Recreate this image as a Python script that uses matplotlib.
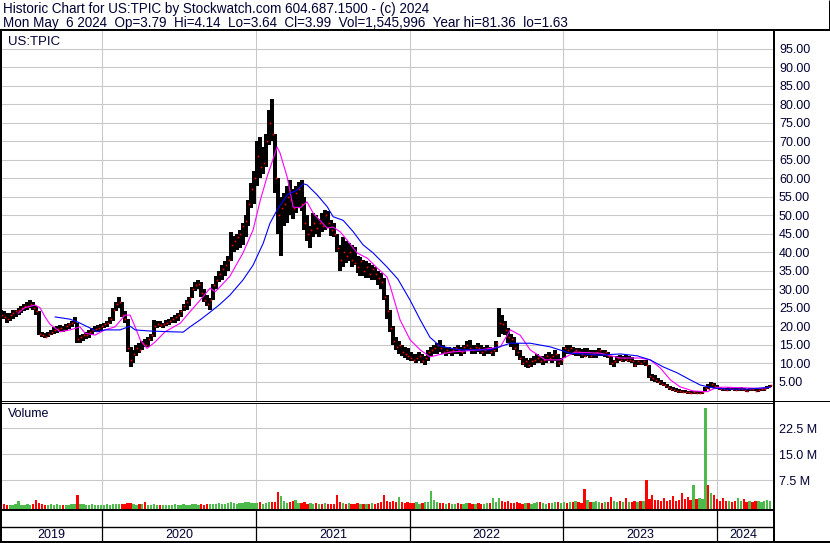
import matplotlib
matplotlib.use("Agg")
import matplotlib.pyplot as plt
from matplotlib.lines import Line2D
import numpy as np
import pandas as pd

# weekly bars (high / low / close)
high19 = [25.5, 24.5, 24.0, 23.5, 23.5, 24.5, 24.5, 25.0, 25.5, 26.0, 26.5, 27.0, 26.5, 25.5, 24.0,
          18.5, 18.2, 18.5, 19.0, 19.8, 20.0, 20.3, 20.0, 20.5, 21.0, 21.5, 22.5, 21.0, 17.5, 18.0,
          18.5, 19.0, 19.5, 20.0, 20.2]
low19 = [23.0, 22.5, 22.0, 21.0, 21.5, 22.0, 22.5, 23.0, 23.5, 24.0, 24.5, 25.0, 24.5, 23.0, 17.5,
         17.0, 16.8, 17.0, 17.5, 18.0, 18.2, 18.5, 18.3, 18.8, 19.2, 19.8, 20.5, 15.5, 15.5, 16.0,
         16.5, 16.8, 17.5, 18.4, 18.5]
close19 = [24.0, 23.0, 22.5, 22.0, 23.0, 23.5, 24.0, 24.5, 25.0, 25.5, 25.5, 26.0, 25.0, 24.0, 18.0,
           17.5, 17.2, 17.8, 18.5, 19.0, 19.2, 19.5, 19.0, 20.0, 20.5, 21.0, 21.5, 16.5, 17.0, 17.5,
           17.5, 18.5, 19.0, 19.2, 19.5]

high20 = [20.5, 21.0, 21.5, 22.5, 25.0, 26.5, 27.9, 26.5, 24.0, 22.0, 14.5, 13.5, 15.0, 15.5, 16.0,
          16.5, 17.0, 18.0, 21.7, 21.5, 21.5, 21.0, 21.7, 22.0, 22.5, 23.0, 23.5, 24.5, 26.0, 27.0,
          28.0, 30.5, 32.0, 32.5, 32.0, 30.0, 28.5, 27.5, 31.5, 33.5, 35.0, 36.5, 37.5, 39.0, 45.5,
          44.5, 45.0, 46.0, 48.0, 50.0, 54.0, 58.7]
low20 = [18.8, 19.5, 19.8, 20.5, 21.5, 24.0, 25.0, 22.5, 21.0, 13.0, 9.0, 10.0, 12.0, 12.8, 13.5,
         14.5, 14.5, 16.0, 17.0, 19.5, 19.8, 19.5, 20.0, 20.3, 21.0, 21.0, 21.5, 22.5, 24.0, 24.5,
         25.5, 27.5, 29.5, 30.0, 28.0, 26.5, 25.5, 24.4, 27.0, 30.0, 32.0, 32.5, 33.5, 35.0, 37.5,
         40.0, 40.5, 41.0, 42.0, 44.0, 47.0, 52.0]
close20 = [20.0, 20.5, 21.0, 22.0, 24.5, 26.0, 26.5, 23.0, 22.0, 14.0, 11.0, 12.5, 14.0, 13.5, 15.5,
           15.0, 16.5, 17.5, 20.0, 20.5, 20.2, 20.5, 21.0, 21.5, 22.0, 22.5, 23.0, 24.0, 25.5, 26.5,
           27.5, 30.0, 31.0, 31.5, 29.0, 27.0, 26.0, 27.0, 31.0, 32.5, 34.0, 35.5, 36.5, 38.0, 42.0,
           43.0, 44.0, 45.0, 47.0, 48.5, 53.0, 57.0]

high21 = [62.0, 70.0, 71.0, 68.5, 72.0, 78.5, 81.4, 72.0, 60.0, 55.0, 56.0, 58.0, 59.5, 57.0, 58.0,
          59.0, 59.6, 55.0, 50.0, 47.0, 50.5, 50.0, 49.0, 50.5, 51.4, 51.0, 48.7, 48.0, 45.0, 42.0,
          44.0, 43.0, 42.5, 42.0, 41.5, 39.0, 38.7, 38.0, 37.5, 37.0, 36.5, 36.0, 35.0, 34.5, 33.0,
          28.5, 24.5, 20.0, 17.0, 16.0, 15.0, 14.5]
low21 = [53.0, 58.0, 60.0, 61.0, 63.0, 69.0, 70.0, 56.0, 45.0, 39.0, 47.0, 48.0, 50.0, 49.0, 50.5,
         52.0, 51.0, 46.0, 43.0, 41.0, 44.0, 45.0, 44.0, 45.5, 46.0, 46.5, 44.5, 44.0, 40.0, 35.0,
         36.0, 37.0, 37.5, 36.0, 36.5, 34.5, 33.5, 33.5, 33.0, 33.0, 32.5, 32.5, 31.0, 30.0, 27.0,
         22.0, 18.5, 15.0, 13.5, 12.5, 12.0, 11.5]
close21 = [60.0, 66.0, 63.0, 64.0, 70.0, 75.0, 72.0, 60.0, 50.0, 52.0, 53.0, 55.0, 54.0, 52.0, 56.0,
           57.0, 53.0, 48.0, 45.0, 46.0, 48.0, 46.5, 48.0, 47.0, 50.0, 48.0, 46.0, 45.0, 41.0, 38.0,
           40.0, 39.0, 40.0, 38.0, 37.0, 36.0, 37.5, 35.0, 36.0, 34.0, 35.5, 34.0, 33.0, 32.0, 28.0,
           24.0, 19.5, 16.0, 14.5, 15.0, 13.0, 12.5]

high22 = [14.0, 13.0, 12.5, 12.5, 13.0, 12.5, 12.0, 13.5, 14.5, 15.0, 15.5, 16.3, 15.0, 14.5, 14.5,
          14.0, 14.5, 15.0, 14.5, 15.0, 16.0, 16.2, 15.0, 15.0, 15.5, 15.0, 14.5, 15.0, 14.5, 14.0,
          16.0, 25.0, 23.0, 21.5, 19.5, 18.0, 17.0, 15.5, 13.5, 12.0, 11.5, 11.0, 11.5, 12.0, 12.5,
          12.0, 12.0, 12.5, 13.0, 12.5, 13.5, 12.5, 11.5]
low22 = [11.0, 10.5, 10.5, 10.0, 10.5, 10.0, 9.5, 10.5, 12.0, 12.5, 12.5, 13.0, 12.5, 12.0, 12.5,
         12.0, 12.5, 12.5, 12.0, 12.5, 13.5, 13.5, 12.5, 12.5, 13.0, 12.5, 12.0, 12.5, 12.5, 12.0,
         13.0, 17.0, 18.0, 17.5, 15.5, 14.5, 13.5, 12.0, 11.0, 9.5, 9.0, 8.7, 9.0, 9.5, 10.0,
         10.0, 9.5, 10.0, 10.5, 10.0, 10.5, 9.0, 9.5]
close22 = [12.0, 11.5, 11.0, 11.5, 12.0, 10.5, 11.5, 13.0, 13.5, 14.0, 15.0, 14.0, 13.0, 13.5, 13.0,
           13.5, 14.0, 13.5, 13.0, 14.5, 15.0, 14.0, 13.5, 14.5, 14.0, 13.0, 13.5, 14.0, 13.0, 13.5,
           15.5, 21.0, 20.5, 19.0, 17.0, 16.5, 14.0, 13.0, 11.5, 10.0, 10.5, 9.5, 10.5, 11.0, 11.5,
           10.5, 11.0, 12.0, 11.5, 12.0, 12.5, 10.0, 11.0]

high23 = [14.5, 15.0, 14.9, 14.5, 14.0, 14.1, 13.8, 14.0, 14.1, 13.5, 13.5, 13.5, 14.0, 13.6, 13.5,
          13.0, 12.0, 11.0, 12.0, 12.2, 12.0, 12.2, 12.0, 11.8, 11.0, 11.0, 10.9, 11.0, 10.9, 9.5,
          7.0, 6.8, 6.0, 5.5, 5.0, 4.5, 3.8, 3.5, 3.2, 3.0, 2.8, 2.7, 2.6, 2.5, 2.5, 2.4, 2.4, 2.6,
          3.5, 4.5, 5.0, 4.6]
low23 = [11.5, 12.5, 12.5, 12.2, 12.0, 12.0, 11.5, 11.8, 12.0, 11.4, 11.5, 11.5, 12.0, 12.0, 11.7,
         11.5, 9.5, 9.0, 10.0, 10.5, 10.3, 10.5, 10.3, 10.0, 9.0, 9.5, 9.5, 9.5, 9.2, 6.0, 5.2, 4.8,
         4.6, 4.2, 3.8, 3.2, 2.8, 2.5, 2.2, 2.0, 2.0, 1.9, 1.8, 1.8, 1.7, 1.63, 1.7, 1.8, 2.2, 3.0,
         3.5, 3.3]
close23 = [14.0, 13.5, 14.0, 13.0, 13.5, 13.0, 12.5, 12.0, 13.0, 12.0, 12.5, 13.0, 13.5, 12.5, 13.0,
           12.0, 10.0, 10.5, 11.5, 11.0, 11.5, 11.0, 11.0, 10.5, 9.5, 10.5, 10.0, 10.5, 9.5, 6.5,
           6.0, 5.5, 5.0, 4.5, 4.2, 3.5, 3.0, 2.8, 2.5, 2.4, 2.3, 2.2, 2.1, 2.0, 2.2, 1.9, 2.0, 2.3,
           3.2, 3.0, 4.5, 3.8]

high24 = [4.0, 3.6, 3.4, 3.3, 3.5, 3.4, 3.2, 3.2, 3.5, 3.2, 3.0, 3.2, 3.4, 3.1, 3.0, 3.3, 3.4, 3.9, 4.14]
low24 = [3.0, 2.8, 2.6, 2.5, 2.6, 2.7, 2.5, 2.4, 2.6, 2.5, 2.3, 2.4, 2.6, 2.4, 2.3, 2.5, 2.6, 2.9, 3.64]
close24 = [3.4, 3.0, 2.9, 2.8, 3.2, 2.9, 2.7, 3.0, 3.1, 2.8, 2.6, 3.0, 2.9, 2.6, 2.7, 3.0, 3.1, 3.6, 3.99]

# volume, millions of shares
vol19 = [0.5, 0.4, 0.6, 0.3, 0.5, 0.4, 0.6, 1.5, 0.5, 0.4, 0.6, 0.5, 0.7, 1.8, 0.9, 0.6, 0.5, 0.4,
         0.8, 0.5, 0.6, 0.4, 0.5, 0.3, 0.5, 0.6, 0.7, 3.3, 0.8, 0.6, 0.5, 0.4, 0.6, 0.5, 0.4]
vol20 = [0.5, 0.4, 0.6, 0.5, 0.7, 0.6, 0.8, 0.6, 0.7, 1.0, 0.9, 0.6, 0.5, 0.7, 0.6, 1.2, 0.5, 0.4,
         0.6, 0.5, 0.4, 0.5, 0.3, 0.4, 0.5, 0.6, 0.4, 0.5, 0.6, 0.5, 0.4, 0.7, 0.6, 0.5, 0.6, 0.5,
         0.7, 0.8, 0.6, 0.7, 0.9, 0.8, 0.7, 1.0, 1.1, 0.9, 0.8, 1.0, 0.9, 1.1, 1.2, 1.0]
vol21 = [1.0, 0.9, 1.2, 0.8, 1.0, 1.1, 1.3, 1.2, 4.2, 2.9, 1.4, 1.0, 1.1, 1.5, 1.8, 1.0, 0.9, 1.1,
         0.8, 0.9, 0.7, 1.0, 0.8, 0.7, 0.9, 0.6, 0.8, 0.7, 3.2, 1.2, 0.9, 0.8, 1.0, 0.7, 0.8, 0.9,
         0.7, 0.6, 0.8, 0.7, 0.9, 0.8, 1.0, 1.1, 3.2, 1.5, 1.2, 1.4, 1.3, 2.8, 1.2, 1.0]
vol22 = [1.2, 1.0, 0.9, 1.1, 0.8, 1.0, 1.2, 1.1, 4.3, 1.8, 1.2, 1.0, 0.9, 0.8, 1.0, 0.7, 0.8, 0.9,
         0.7, 0.8, 1.0, 0.9, 0.8, 0.7, 0.9, 0.8, 0.7, 0.9, 1.0, 2.5, 1.2, 2.3, 1.6, 1.2, 1.5, 1.0,
         0.9, 1.1, 1.0, 0.8, 0.9, 1.0, 0.8, 0.9, 1.1, 1.2, 0.9, 0.8, 1.0, 0.9, 1.1, 1.2, 1.0]
vol23 = [1.2, 1.0, 1.3, 1.1, 1.4, 1.2, 1.0, 5.1, 1.8, 1.3, 1.2, 1.5, 1.1, 1.0, 1.3, 1.2, 2.8, 1.5,
         1.3, 1.4, 1.2, 2.3, 1.3, 1.1, 1.4, 1.2, 1.5, 1.6, 7.5, 2.0, 3.3, 1.8, 1.8, 1.6, 2.3, 1.5,
         1.7, 3.0, 1.6, 1.8, 3.8, 2.0, 2.6, 1.9, 6.1, 2.2, 2.5, 2.0, 28.4, 6.0, 3.8, 3.3]
vol24 = [2.0, 1.6, 2.5, 1.4, 1.5, 1.3, 1.6, 2.5, 1.4, 2.2, 1.3, 1.5, 1.2, 1.6, 1.4, 1.3, 1.5, 1.7, 1.5]

# short moving average (magenta)
fast_dates = ["2019-06-16", "2019-07-02", "2019-07-26", "2019-08-07", "2019-08-19", "2019-08-31",
              "2019-09-24", "2019-10-17", "2019-11-10", "2019-11-22", "2019-12-16", "2020-01-08",
              "2020-02-01", "2020-02-25", "2020-03-08", "2020-03-20", "2020-04-01", "2020-04-17",
              "2020-05-06", "2020-05-30", "2020-07-05", "2020-07-28", "2020-08-21", "2020-09-14",
              "2020-09-26", "2020-10-08", "2020-10-31", "2020-12-01", "2020-12-25", "2021-01-11",
              "2021-01-27", "2021-02-20", "2021-02-27", "2021-03-16", "2021-03-30", "2021-04-16",
              "2021-05-02", "2021-05-17", "2021-06-02", "2021-06-19", "2021-07-03", "2021-07-20",
              "2021-08-05", "2021-08-29", "2021-09-22", "2021-10-16", "2021-11-08", "2021-11-15",
              "2021-12-09", "2022-01-02", "2022-01-26", "2022-02-18", "2022-04-07", "2022-06-17",
              "2022-08-04", "2022-08-28", "2022-09-20", "2022-10-14", "2022-11-19", "2022-12-24",
              "2023-01-29", "2023-03-29", "2023-05-16", "2023-07-02", "2023-07-26", "2023-08-19",
              "2023-09-12", "2023-10-05", "2023-11-05", "2023-12-09", "2024-01-01", "2024-01-25",
              "2024-04-12", "2024-05-06"]
fast_vals = [23.5, 25.0, 25.7, 25.0, 22.5, 20.5, 18.5, 19.0, 19.8, 18.1, 17.6, 19.0,
             19.8, 23.0, 23.0, 19.8, 16.3, 14.0, 15.7, 18.5, 20.8, 23.9, 27.0, 30.3,
             29.3, 30.7, 33.5, 39.8, 46.0, 54.0, 60.3, 68.4, 66.8, 60.3, 52.2, 52.0,
             53.6, 50.5, 48.6, 46.5, 46.8, 45.5, 43.3, 39.8, 38.4, 35.7, 33.3, 31.0,
             21.7, 16.3, 13.6, 11.7, 13.0, 13.6, 14.4, 19.0, 17.6, 13.6, 10.9, 10.9,
             13.0, 12.7, 11.4, 11.4, 10.9, 8.7, 5.5, 3.6, 2.5, 2.3, 3.5, 3.5,
             3.2, 3.5]

# long moving average (blue)
slow_dates = ["2019-09-12", "2019-10-17", "2019-11-05", "2019-12-04", "2019-12-20", "2020-01-08",
              "2020-02-13", "2020-03-08", "2020-03-20", "2020-04-24", "2020-06-11", "2020-07-12",
              "2020-07-28", "2020-08-21", "2020-09-14", "2020-10-08", "2020-10-31", "2020-12-01",
              "2020-12-25", "2021-01-18", "2021-02-03", "2021-02-20", "2021-03-16", "2021-04-09",
              "2021-04-23", "2021-05-02", "2021-05-26", "2021-06-19", "2021-07-03", "2021-07-27",
              "2021-08-20", "2021-09-12", "2021-10-06", "2021-11-08", "2021-12-04", "2022-01-02",
              "2022-01-26", "2022-02-18", "2022-03-14", "2022-05-01", "2022-07-11", "2022-08-28",
              "2022-10-14", "2022-12-01", "2023-01-17", "2023-03-29", "2023-05-16", "2023-06-25",
              "2023-07-26", "2023-08-26", "2023-09-28", "2023-10-29", "2023-11-22", "2023-12-23",
              "2024-01-25", "2024-03-13", "2024-05-06"]
slow_vals = [22.5, 21.9, 21.1, 19.5, 18.5, 19.0, 19.0, 20.0, 19.0, 18.7, 18.5, 18.4,
             19.8, 21.7, 23.8, 26.0, 28.4, 32.5, 36.5, 42.4, 47.8, 51.4, 55.5, 56.8,
             58.5, 58.2, 55.5, 52.3, 49.6, 48.6, 45.5, 42.0, 39.8, 36.0, 32.7, 27.0,
             21.7, 17.0, 14.6, 13.6, 13.6, 15.4, 15.4, 14.4, 12.7, 12.2, 12.5, 12.0,
             10.9, 9.0, 7.4, 5.5, 4.1, 3.3, 3.0, 3.0, 3.5]

price_ticks = list(range(5, 100, 5))
vol_ticks = [7.5, 15.0, 22.5]
years = [2019, 2020, 2021, 2022, 2023, 2024]

header1 = "Historic Chart for US:TPIC by Stockwatch.com 604.687.1500 - (c) 2024"
header2 = ("Mon May  6 2024  Op=3.79  Hi=4.14  Lo=3.64  Cl=3.99  Vol=1,545,996  "
           "Year hi=81.36  lo=1.63")

plt.rcParams["font.family"] = ["Liberation Sans", "DejaVu Sans"]
TXT = "#000033"
GRID = "#c8c8c8"
UP, DOWN = "#4cbb4c", "#ff0000"
W, H = 830, 543

high = np.array(high19 + high20 + high21 + high22 + high23 + high24)
low = np.array(low19 + low20 + low21 + low22 + low23 + low24)
close = np.array(close19 + close20 + close21 + close22 + close23 + close24)
vol = np.array(vol19 + vol20 + vol21 + vol22 + vol23 + vol24)
weeks = pd.date_range(end="2024-05-06", periods=len(close), freq="7D")
x0, x1 = pd.Timestamp("2019-05-04"), pd.Timestamp("2024-05-15")
year_starts = [pd.Timestamp(f"{y}-01-01") for y in years[1:]]


def rect(left, top, right, bottom):
    return [left / W, 1 - bottom / H, (right - left) / W, (bottom - top) / H]


def rule(xa, ya, xb, yb, px=1.0):
    fig.add_artist(Line2D([xa / W, xb / W], [1 - ya / H, 1 - yb / H], transform=fig.transFigure,
                          color="black", lw=px * 0.72, solid_capstyle="butt"))


fig = plt.figure(figsize=(W / 100, H / 100), dpi=100)

ax = fig.add_axes(rect(0, 31, 774, 400.5))
axv = fig.add_axes(rect(0, 403, 774, 509), sharex=ax)
axy = fig.add_axes(rect(0, 510, 774, 542), sharex=ax)

for a in (ax, axv, axy):
    for s in a.spines.values():
        s.set_visible(False)
    a.set_xlim(x0, x1)
    a.set_xticks(year_starts)
    a.tick_params(axis="x", length=0, labelbottom=False)

# price panel
ax.set_ylim(-0.08, 99.78)
ax.grid(True, color=GRID, lw=0.75)
ax.set_axisbelow(True)
ax.yaxis.tick_right()
ax.set_yticks(price_ticks)
ax.set_yticklabels([f"{t:.2f}" for t in price_ticks])
ax.tick_params(axis="y", length=0, pad=3.6, labelsize=9, labelcolor=TXT)
ax.vlines(weeks, low, high, color="black", lw=1.45, antialiased=False, zorder=2)
ax.plot(weeks + pd.Timedelta(days=2), close, ls="none", marker="s", ms=1.2, mew=0,
        color="#ff0000", zorder=3)
ax.plot(pd.to_datetime(fast_dates), fast_vals, color="#ff00ff", lw=0.8, zorder=4)
ax.plot(pd.to_datetime(slow_dates), slow_vals, color="#0000ff", lw=0.8, zorder=4)
ax.text(8 / 774, 1 - 11 / 369.5, "US:TPIC", transform=ax.transAxes, fontsize=9.5, color=TXT,
        va="center", ha="left")

# volume panel
prev = np.concatenate([[close[0]], close[:-1]])
colors = [DOWN if c < p else UP for c, p in zip(close, prev)]
vbase = -0.78
axv.set_ylim(vbase, 29.8)
axv.grid(True, color=GRID, lw=0.75)
axv.set_axisbelow(True)
axv.bar(weeks, vol - vbase, bottom=vbase, width=5.5, color=colors, lw=0, zorder=2)
axv.yaxis.tick_right()
axv.set_yticks(vol_ticks)
axv.set_yticklabels([f"{t:.1f} M" for t in vol_ticks])
axv.tick_params(axis="y", length=0, pad=3.6, labelsize=9, labelcolor=TXT)
axv.text(8 / 774, 1 - 11 / 106, "Volume", transform=axv.transAxes, fontsize=9, color=TXT,
         va="center", ha="left")

# year strip
axy.set_ylim(0, 1)
axy.set_yticks([])
axy.axhline(15.5 / 32, color="black", lw=1.0)
for d in year_starts:
    axy.axvline(d, color="black", lw=0.9)
for y in years:
    a0 = max(pd.Timestamp(f"{y}-01-01"), x0)
    a1 = min(pd.Timestamp(f"{y + 1}-01-01"), weeks[-1])
    axy.text(a0 + (a1 - a0) / 2, 7.5 / 32, str(y), ha="center", va="center", fontsize=9,
             color=TXT)

# frame lines
rule(0, 30, W, 30, 2)
rule(0.8, 30, 0.8, 543, 2)
rule(774.3, 30, 774.3, 543, 2)
rule(828.5, 0, 828.5, 30, 1)
rule(0, 400.5, W, 400.5, 1)
rule(0, 402.5, 774, 402.5, 1)
rule(0, 509.8, 774, 509.8, 2)
rule(0, 542, W, 542, 2)

fig.text(3 / W, 1 - 8.5 / H, header1, fontsize=9.75, color=TXT, ha="left", va="center")
fig.text(3 / W, 1 - 22.5 / H, header2, fontsize=9.75, color=TXT, ha="left", va="center")

fig.savefig("out.png", dpi=100)
